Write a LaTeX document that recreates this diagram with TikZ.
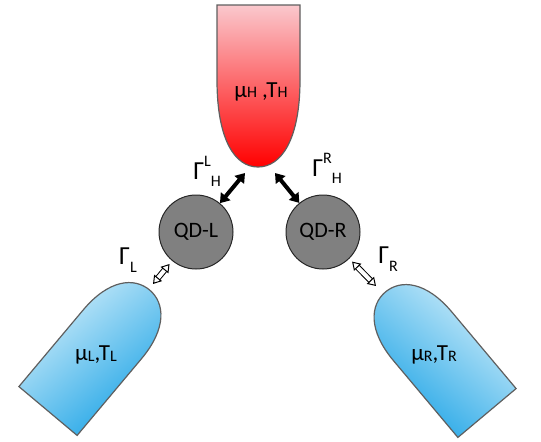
\documentclass[tikz,border=0pt]{standalone}
\usepackage{fontspec}
\setmainfont{Carlito}
\usetikzlibrary{arrows.meta,positioning}
\definecolor{hotlight}{HTML}{FAC8CD}
\definecolor{hotdark}{HTML}{FF0000}
\definecolor{coldlight}{HTML}{D2EEFA}
\definecolor{colddark}{HTML}{1BA3E6}
\definecolor{dotgray}{HTML}{808080}
\definecolor{rim}{HTML}{5F5F5F}
\newcommand\highidx[1]{\raisebox{6.5pt}{\fontsize{8}{8}\selectfont #1}}
\newcommand\lowidx[2][-3.5pt]{\raisebox{#1}{\fontsize{8}{8}\selectfont #2}}

\begin{document}
\begin{tikzpicture}[
    x=0.5pt, y=0.5pt,
    dot/.style={circle, draw=black!85, fill=dotgray, line width=0.5pt, minimum size=37pt, inner sep=0pt, font=\fontsize{11}{12}\selectfont},
    lbl/.style={inner sep=0pt, font=\fontsize{13}{14}\selectfont},
    txt/.style={inner sep=0pt, font=\fontsize{11.5}{12}\selectfont},
    tank/.style={draw=rim, line width=0.6pt},
    bigarr/.style={{Triangle[width=6pt,length=4.5pt]}-{Triangle[width=6pt,length=4.5pt]}, line width=2pt},
    hollowarr/.style={{Triangle[open,width=5pt,length=4pt]}-{Triangle[open,width=5pt,length=4pt]}, line width=0.5pt, double=white, double distance=2pt}
  ]
    \useasboundingbox (0,0) rectangle (541,441);

    % reservoirs
    \draw[tank, top color=hotlight, bottom color=hotdark]
      (217,436) -- (217,361) .. controls (217,301) and (235,274) .. (258,274)
      .. controls (281,274) and (300,301) .. (300,361) -- (300,436) -- cycle;
    \draw[tank, shift={(48,30)}, rotate=-40, top color=coldlight, bottom color=colddark, shading angle=40]
      (-38,0) -- (-38,100) .. controls (-38,140) and (-20,158) .. (0,158)
      .. controls (20,158) and (38,140) .. (38,100) -- (38,0) -- cycle;
    \draw[tank, shift={(487,28)}, rotate=40, top color=coldlight, bottom color=colddark, shading angle=-40]
      (-38,0) -- (-38,100) .. controls (-38,140) and (-20,158) .. (0,158)
      .. controls (20,158) and (38,140) .. (38,100) -- (38,0) -- cycle;

    \node[txt] (hot) at (261,349) {μ\lowidx[0pt]{H} ,T\lowidx[0pt]{H}};
    \node[txt] (coldl) at (96,86) {μ\lowidx[-0.5pt]{L},T\lowidx[-0.5pt]{L}};
    \node[txt] (coldr) at (434,86) {μ\lowidx[-0.5pt]{R},T\lowidx[-0.5pt]{R}};

    % dots
    \node[dot] (qdl) at (196,209) {QD-L};
    \node[dot] (qdr) at (323,209) {QD-R};

    % rates
    \node[lbl] (ghl) at (207,270) {Γ\highidx{L}\lowidx{H}};
    \node[lbl] (ghr) at (327,273) {Γ\highidx{R}\lowidx{H}};
    \node[lbl] (gl) at (128,181) {Γ\lowidx[-4pt]{L}};
    \node[lbl] (gr) at (388,182) {Γ\lowidx[-4pt]{R}};

    \coordinate (hotl) at (245,268);
    \coordinate (hotr) at (275,268);
    \coordinate (tipl) at (153,157);
    \coordinate (tipr) at (376,155);

    \draw[bigarr] (qdl) -- (hotl);
    \draw[bigarr] (qdr) -- (hotr);
    \draw[hollowarr, shorten >=2pt] (tipl) -- (qdl);
    \draw[hollowarr, shorten >=2pt] (tipr) -- (qdr);
  \end{tikzpicture}
\end{document}
